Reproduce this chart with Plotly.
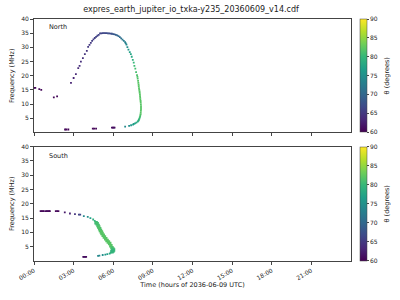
import plotly.graph_objects as go

# ---------------- data ----------------
hour_ticks = [0, 3, 6, 9, 12, 15, 18, 21]
hour_labels = ["00:00", "03:00", "06:00", "09:00", "12:00", "15:00", "18:00", "21:00"]
freq_ticks = [5, 10, 15, 20, 25, 30, 35, 40]
theta_ticks = [60, 65, 70, 75, 80, 85, 90]

north_time = [
    0.02, 0.1, 0.4, 0.55, 1.5, 1.75, 2.35, 2.45, 2.6, 4.45, 4.55, 4.7, 5.9, 5.97, 6.04, 6.1,
    2.8, 3.0, 3.17, 3.35, 3.45, 3.55, 3.7, 3.85, 4.0, 4.1, 4.2, 4.3, 4.4, 4.5, 4.6, 4.7, 4.8, 4.9,
    5.0, 5.1, 5.2, 5.3, 5.4, 5.5, 5.6, 5.7,
    5.8, 5.9, 6.0, 6.1, 6.2, 6.3, 6.4, 6.5, 6.6, 6.7, 6.8, 6.9, 6.95, 7.0, 7.07, 7.15, 7.25,
    7.33, 7.4, 7.48, 7.55, 7.6, 7.67, 7.73,
    7.8, 7.83, 7.85, 7.88, 7.9, 7.92, 7.93, 7.95, 7.97, 7.99, 8.0, 8.02, 8.03, 8.04, 8.05,
    8.07, 8.08, 8.09, 8.1, 8.1, 8.1, 8.09, 8.08, 8.07, 8.05, 8.03, 8.0, 7.97, 7.93, 7.9, 7.85,
    7.75, 7.65, 7.55, 7.5, 7.35, 7.2, 6.9,
]
north_freq = [
    15.7, 15.7, 15.3, 15.0, 12.35, 12.7, 1.05, 1.05, 1.05, 1.4, 1.4, 1.4, 1.75, 1.75, 1.75, 1.75,
    17.5, 19.2, 20.6, 22.7, 23.5, 25.0, 26.2, 27.6, 28.8, 30.2, 30.9, 31.6, 32.3, 32.8, 33.3, 33.7, 34.1, 34.4,
    34.9, 34.95, 35.0, 35.0, 35.0, 35.0, 34.95, 34.9,
    34.85, 34.8, 34.7, 34.55, 34.4, 34.2, 33.95, 33.6, 33.2, 32.75, 32.3, 31.8, 31.4, 31.0, 30.1, 29.2, 28.3,
    27.6, 26.7, 25.6, 24.6, 23.5, 22.5, 21.3,
    20.2, 19.6, 19.0, 18.2, 17.5, 16.9, 16.3, 15.6, 15.0, 14.5, 14.0, 13.4, 12.8, 12.2, 11.7,
    11.1, 10.5, 9.9, 9.3, 8.7, 8.2, 7.6, 7.0, 6.5, 6.0, 5.6, 5.25, 4.8, 4.4, 4.1, 3.8,
    3.5, 3.25, 3.0, 2.8, 2.55, 2.3, 2.1,
]
north_theta = [
    60.5, 60.5, 60.5, 60.5, 60.5, 60.5, 60.5, 60.5, 60.5, 60.5, 60.5, 60.5, 61, 61, 61, 61,
    63, 63, 63.5, 63.5, 64, 64, 64, 64.5, 64.5, 65, 65, 65, 65.5, 65.5, 65.5, 66, 66, 66,
    66, 66, 66.5, 66.5, 66.5, 67, 67, 67,
    67, 67.5, 68, 68.5, 69, 69.5, 70, 70.5, 71, 72, 72.5, 73, 73.5, 74, 75, 76, 77,
    77.5, 78, 79, 80, 80.5, 81, 81,
    81.5, 81.5, 81.5, 82, 82, 82, 82, 82, 82, 82, 82, 82, 82, 82, 82,
    82, 82, 82, 82, 82, 82, 82, 82, 82, 81.5, 81, 80.5, 80, 79.5, 79, 78.5,
    78, 77.5, 77, 76.5, 76, 75, 74,
]

south_time = [
    0.5, 0.58, 0.66, 0.75, 0.9, 0.98, 1.06, 1.14, 1.2, 1.65, 1.75, 1.85,
    2.33, 2.72, 3.1, 3.4, 3.5, 3.77, 4.07, 4.27, 4.48, 4.6,
    5.8, 5.73, 5.55, 5.4, 5.2, 4.95, 4.85,
    3.73, 3.8, 3.88, 3.95,
]
south_freq = [
    17.45, 17.45, 17.45, 17.45, 17.45, 17.45, 17.45, 17.45, 17.45, 17.45, 17.45, 17.45,
    17.0, 16.6, 16.4, 16.2, 16.2, 15.7, 15.4, 15.0, 14.5, 14.0,
    2.9, 2.6, 2.4, 2.26, 2.1, 1.85, 1.8,
    1.45, 1.45, 1.45, 1.45,
]
south_theta = [
    60.5, 60.5, 60.5, 60.5, 60.5, 60.5, 60.5, 60.5, 60.5, 60.5, 60.5, 60.5,
    62, 63, 64.5, 66, 66, 74, 75, 77, 79, 80,
    79, 78, 77, 76, 75, 74, 74,
    61, 61, 61, 61,
]

south_band_time = [
    4.7, 4.78, 4.85, 4.9, 4.97, 5.03, 5.1, 5.15, 5.24, 5.33, 5.43, 5.53, 5.63, 5.73,
    5.82, 5.9, 5.97, 6.02, 5.97, 5.9,
]
south_band_freq = [
    13.4, 13.0, 12.4, 11.9, 11.3, 10.7, 10.1, 9.6, 9.0, 8.4, 7.8, 7.2, 6.6, 6.1,
    5.3, 4.6, 4.2, 3.8, 3.5, 3.2,
]
south_band_theta = [
    80.5, 81, 81, 81.5, 81.5, 81.5, 82, 82, 82, 82, 82, 82, 82, 82,
    82, 81.5, 81, 80.5, 80, 79.5,
]

# ---------------- figure ----------------
FONT = "DejaVu Sans"
TXT = "#222222"
AX = "#444444"

fig = go.Figure()

def cbar(y0, length):
    return dict(
        x=1.028, xanchor="left", xpad=0, y=y0, yanchor="top", ypad=0,
        len=length, lenmode="fraction", thickness=7, thicknessmode="pixels",
        outlinewidth=0.5, outlinecolor=AX,
        tickvals=theta_ticks, ticks="outside", ticklen=2, tickcolor=AX,
        tickfont=dict(family=FONT, size=6, color=TXT),
    )

top_dom = [0.531, 1.0]
bot_dom = [0.0, 0.473]

fig.add_trace(go.Scatter(
    x=north_time, y=north_freq, mode="markers", xaxis="x", yaxis="y",
    marker=dict(symbol="square", size=1.8, line=dict(width=0), color=north_theta,
                colorscale="Viridis", cmin=60, cmax=90, showscale=True,
                colorbar=cbar(1.0, top_dom[1] - top_dom[0])),
    showlegend=False, hoverinfo="skip",
))
fig.add_trace(go.Scatter(
    x=south_time, y=south_freq, mode="markers", xaxis="x2", yaxis="y2",
    marker=dict(symbol="square", size=1.8, line=dict(width=0), color=south_theta,
                colorscale="Viridis", cmin=60, cmax=90, showscale=True,
                colorbar=cbar(bot_dom[1], bot_dom[1] - bot_dom[0])),
    showlegend=False, hoverinfo="skip",
))
fig.add_trace(go.Scatter(
    x=south_band_time, y=south_band_freq, mode="markers", xaxis="x2", yaxis="y2",
    marker=dict(symbol="square", size=3.5, line=dict(width=0), color=south_band_theta,
                colorscale="Viridis", cmin=60, cmax=90, showscale=False),
    showlegend=False, hoverinfo="skip",
))

axis_common = dict(
    showline=True, linecolor=AX, linewidth=1, mirror=True, showgrid=False, zeroline=False,
    ticks="outside", ticklen=3, tickcolor=AX, tickfont=dict(family=FONT, size=6, color=TXT),
)

lab_font = dict(family=FONT, size=6.5, color=TXT)

fig.update_layout(
    width=400, height=300,
    margin=dict(l=31, r=49, t=19, b=38),
    paper_bgcolor="white", plot_bgcolor="white",
    font=dict(family=FONT, color=TXT),
    title=dict(text="expres_earth_jupiter_io_txka-y235_20360609_v14.cdf",
               x=0.4775, xanchor="center", y=0.968, yanchor="middle",
               font=dict(family=FONT, size=8, color=TXT)),
    xaxis=dict(domain=[0, 1], anchor="y", range=[0, 24], tickvals=hour_ticks,
               showticklabels=False, **axis_common),
    yaxis=dict(domain=top_dom, anchor="x", range=[0, 40], tickvals=freq_ticks,
               title=dict(text="Frequency (MHz)", font=lab_font, standoff=5),
               **axis_common),
    xaxis2=dict(domain=[0, 1], anchor="y2", range=[0, 24], tickvals=hour_ticks, ticktext=hour_labels,
                tickangle=-30,
                title=dict(text="Time (hours of 2036-06-09 UTC)", font=lab_font, standoff=2),
                **axis_common),
    yaxis2=dict(domain=bot_dom, anchor="x2", range=[0, 40], tickvals=freq_ticks,
                title=dict(text="Frequency (MHz)", font=lab_font, standoff=5),
                **axis_common),
    annotations=[
        dict(text="North", x=0.04, y=0.93, xref="x domain", yref="y domain", xanchor="left",
             yanchor="middle", showarrow=False, font=lab_font),
        dict(text="South", x=0.04, y=0.92, xref="x2 domain", yref="y2 domain", xanchor="left",
             yanchor="middle", showarrow=False, font=lab_font),
        dict(text="θ (degrees)", x=1.1125, y=(top_dom[0] + top_dom[1]) / 2, xref="paper", yref="paper",
             xanchor="center", yanchor="middle", textangle=-90, showarrow=False, font=lab_font),
        dict(text="θ (degrees)", x=1.1125, y=(bot_dom[0] + bot_dom[1]) / 2, xref="paper", yref="paper",
             xanchor="center", yanchor="middle", textangle=-90, showarrow=False, font=lab_font),
    ],
)

fig.write_html("out.html")
